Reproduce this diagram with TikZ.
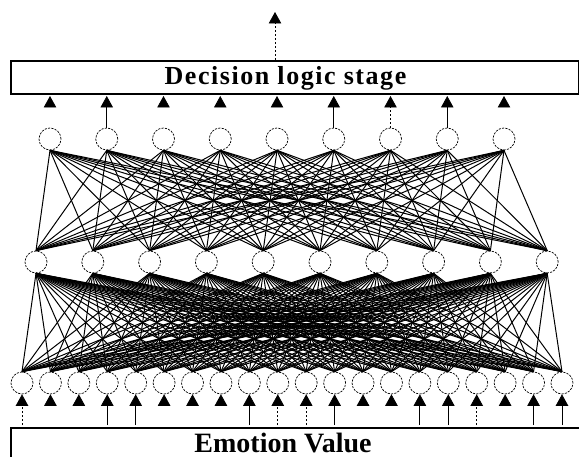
\documentclass[tikz,border=0pt]{standalone}
\usepackage{fontspec}
\setmainfont{Liberation Serif}
\newfontfamily\labelfont[LetterSpace=6]{Liberation Serif}
\usetikzlibrary{arrows.meta}
\begin{document}
\begin{tikzpicture}[x=1pt,y=-1pt,
  neuron/.style={circle,draw,dash pattern=on 2.2pt off 1.2pt,line width=0.7pt,minimum size=22pt,inner sep=0pt},
  link/.style={line width=1pt},
  stagebox/.style={draw,line width=1.8pt,inner sep=0pt},
  stagetext/.style={inner sep=0pt,anchor=base},
  tip/.style={-{Triangle[width=12.5pt,length=11.5pt]},line width=0.8pt},
  solidshaft/.style={},
  dashshaft/.style={dash pattern=on 2pt off 2pt},
  ghost/.style={dash pattern=on 0pt off 60pt}
]
\clip (0,0) rectangle (579,457);
\useasboundingbox (0,0) rectangle (579,457);

% boxes
\node[stagebox,anchor=north west,minimum width=568pt,minimum height=33pt] (dec) at (10,60) {};
\node[stagetext,font=\labelfont\bfseries\fontsize{26}{30}\selectfont] (dect) at (285.5,85) {Decision logic stage};
\node[stagebox,anchor=north west,minimum width=600pt,minimum height=60pt] (emo) at (10,427) {};
\node[stagetext,font=\bfseries\fontsize{28}{32}\selectfont] (emot) at (283,452) {Emotion Value};

% neurons
\foreach \i in {0,...,19} \node[neuron] (in\i) at ({22+\i*28.42},383) {};
\foreach \i in {0,...,9} \node[neuron] (h\i) at ({36+\i*56.8},262) {};
\foreach \i in {0,...,8} \node[neuron] (o\i) at ({50+\i*56.75},139) {};

% connections
\foreach \i in {0,...,9} {
  \foreach \j in {0,...,19} \draw[link] (h\i.south) -- (in\j.north);
  \foreach \j in {0,...,8} \draw[link] (h\i.north) -- (o\j.south);
}

% output arrows
\foreach \i/\s in {0/ghost,1/solidshaft,2/ghost,3/ghost,4/ghost,5/solidshaft,6/dashshaft,7/solidshaft,8/ghost} {
  \coordinate (ot\i) at ({50+\i*56.75},96);
  \draw[tip,\s] (o\i.north) -- (ot\i);
}

% input arrows
\foreach \j/\s in {0/dashshaft,1/ghost,2/ghost,3/solidshaft,4/solidshaft,5/ghost,6/ghost,7/ghost,8/solidshaft,9/dashshaft,10/dashshaft,11/solidshaft,12/ghost,13/ghost,14/solidshaft,15/solidshaft,16/dashshaft,17/ghost,18/solidshaft,19/solidshaft} {
  \coordinate (ib\j) at ({22+\j*28.42},425);
  \draw[tip,\s] (ib\j) -- (in\j.south);
}

% top arrow
\coordinate (topt) at (275,12);
\draw[tip,dashshaft] (dec.north -| topt) -- (topt);
\end{tikzpicture}
\end{document}
